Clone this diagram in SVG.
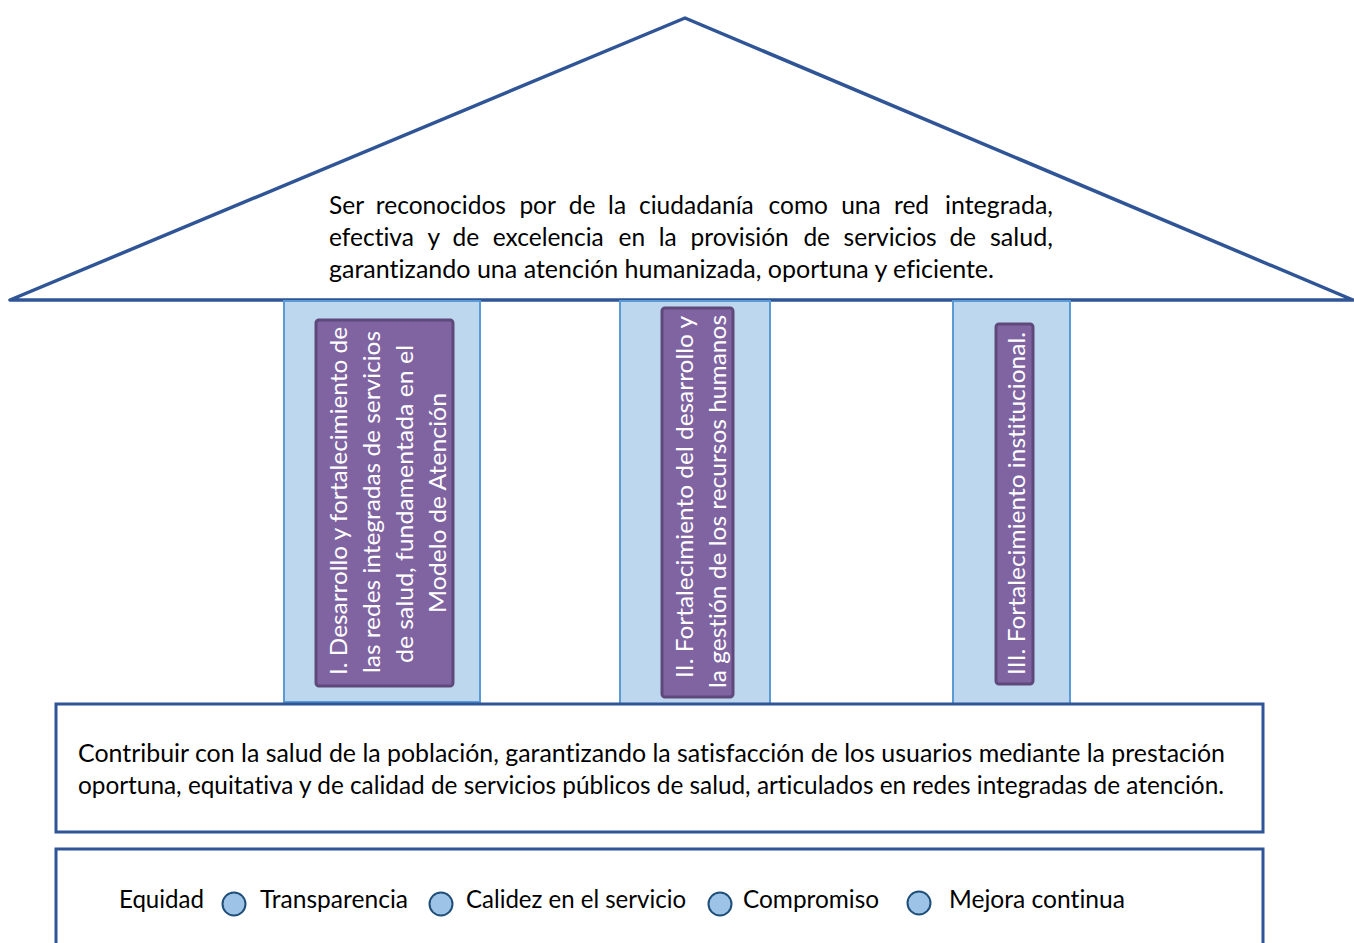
<svg xmlns="http://www.w3.org/2000/svg" width="1354" height="943" viewBox="0 0 1354 943">
<style>
.txt{font-family:Lato,"Open Sans","Liberation Sans",sans-serif;font-size:24.5px;fill:#000;font-variant-ligatures:none}
.ptxt{font-family:Lato,"Open Sans","Liberation Sans",sans-serif;font-size:24px;fill:#fff;font-variant-ligatures:none}
.outer{fill:#BDD7EE;stroke:#5B9BD5;stroke-width:2}
.inner{fill:#8064A2;stroke:#5F497A;stroke-width:3}
.box{fill:#fff;stroke:#2F5597;stroke-width:3}
.dot{fill:#9DC3E6;stroke:#1F4E79;stroke-width:2}
</style>
<rect width="1354" height="943" fill="#fff"/>
<g id="roof">
<polygon points="685,18 10,300 1353,300" fill="#fff" stroke="#2F5597" stroke-width="3.5" stroke-linejoin="round"/>
<text class="txt" y="214"><tspan x="329">Ser</tspan><tspan x="375.8">reconocidos</tspan><tspan x="519.4">por</tspan><tspan x="568.8">de</tspan><tspan x="608.1">la</tspan><tspan x="639">ciudadanía</tspan><tspan x="768.6">como</tspan><tspan x="841.2">una</tspan><tspan x="894">red</tspan><tspan x="945" textLength="108" lengthAdjust="spacingAndGlyphs">integrada,</tspan></text>
<text class="txt" y="246"><tspan x="329">efectiva</tspan><tspan x="427.6">y</tspan><tspan x="452.6">de</tspan><tspan x="492.8">excelencia</tspan><tspan x="618.5">en</tspan><tspan x="658.7">la</tspan><tspan x="690.5">provisión</tspan><tspan x="803.4">de</tspan><tspan x="843.6">servicios</tspan><tspan x="949.4">de</tspan><tspan x="990" textLength="63" lengthAdjust="spacingAndGlyphs">salud,</tspan></text>
<text class="txt" x="329" y="278" textLength="665" lengthAdjust="spacingAndGlyphs">garantizando una atención humanizada, oportuna y eficiente.</text>
</g>
<g id="pillar1">
<rect class="outer" x="284" y="301" width="196" height="401"/>
<rect class="inner" x="316" y="320" width="137" height="366" rx="3"/>
<text class="ptxt" transform="translate(347,675) rotate(-90)" textLength="348" lengthAdjust="spacingAndGlyphs">I. Desarrollo y fortalecimiento de</text>
<text class="ptxt" transform="translate(380,673) rotate(-90)" textLength="342" lengthAdjust="spacingAndGlyphs">las redes integradas de servicios</text>
<text class="ptxt" transform="translate(413,663) rotate(-90)" textLength="318" lengthAdjust="spacingAndGlyphs">de salud, fundamentada en el</text>
<text class="ptxt" transform="translate(446,613) rotate(-90)" textLength="220" lengthAdjust="spacingAndGlyphs">Modelo de Atención</text>
</g>
<g id="pillar2">
<rect class="outer" x="620" y="301" width="150" height="403"/>
<rect class="inner" x="662" y="308" width="71" height="389" rx="3"/>
<text class="ptxt" transform="translate(693,678) rotate(-90)" textLength="362" lengthAdjust="spacingAndGlyphs">II. Fortalecimiento del desarrollo y</text>
<text class="ptxt" transform="translate(726,688) rotate(-90)" textLength="373" lengthAdjust="spacingAndGlyphs">la gestión de los recursos humanos</text>
</g>
<g id="pillar3">
<rect class="outer" x="953" y="301" width="117" height="405"/>
<rect class="inner" x="996" y="324" width="37" height="360" rx="3"/>
<text class="ptxt" transform="translate(1025,675) rotate(-90)" textLength="343" lengthAdjust="spacingAndGlyphs">III. Fortalecimiento institucional.</text>
</g>
<g id="mission">
<rect class="box" x="56" y="704" width="1207" height="128"/>
<text class="txt" x="78" y="762" textLength="1147" lengthAdjust="spacingAndGlyphs">Contribuir con la salud de la población, garantizando la satisfacción de los usuarios mediante la prestación</text>
<text class="txt" x="78" y="794" textLength="1146" lengthAdjust="spacingAndGlyphs">oportuna, equitativa y de calidad de servicios públicos de salud, articulados en redes integradas de atención.</text>
</g>
<g id="values">
<rect class="box" x="56" y="849" width="1207" height="120"/>
<text class="txt" x="119" y="908" textLength="85" lengthAdjust="spacingAndGlyphs">Equidad</text>
<circle class="dot" cx="234" cy="904" r="11.5"/>
<text class="txt" x="260" y="908" textLength="148" lengthAdjust="spacingAndGlyphs">Transparencia</text>
<circle class="dot" cx="441" cy="904" r="11.5"/>
<text class="txt" x="466" y="908" textLength="220" lengthAdjust="spacingAndGlyphs">Calidez en el servicio</text>
<circle class="dot" cx="720" cy="904" r="11.5"/>
<text class="txt" x="743" y="908" textLength="136" lengthAdjust="spacingAndGlyphs">Compromiso</text>
<circle class="dot" cx="919" cy="903" r="11.5"/>
<text class="txt" x="949" y="908" textLength="176" lengthAdjust="spacingAndGlyphs">Mejora continua</text>
</g>
<g id="connectors"></g>
</svg>
